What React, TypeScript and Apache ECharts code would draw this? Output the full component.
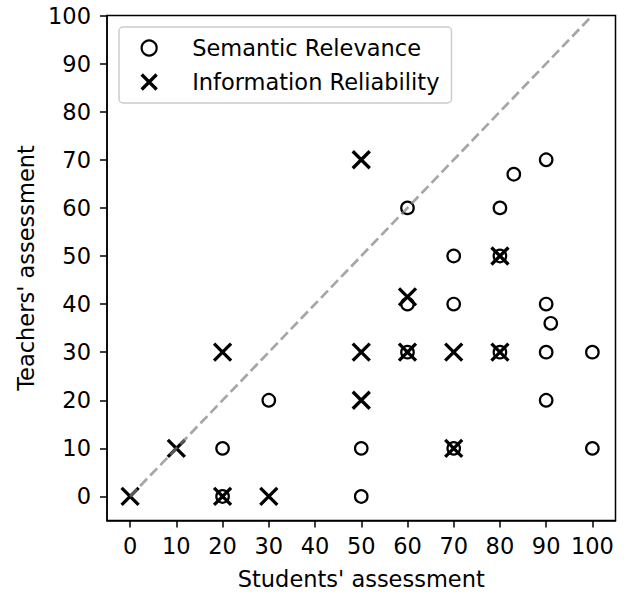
import React, { useEffect, useRef } from "react";
import * as echarts from "echarts";

const semanticRelevance: number[][] = [
  [20, 0], [20, 10], [30, 20], [50, 0], [50, 10], [60, 30], [60, 40], [60, 60],
  [70, 10], [70, 40], [70, 50], [80, 30], [80, 50], [80, 60], [83, 67], [90, 70],
  [90, 40], [91, 36], [90, 30], [90, 20], [100, 30], [100, 10],
];
const informationReliability: number[][] = [
  [0, 0], [10, 10], [20, 0], [20, 30], [30, 0], [50, 70], [50, 30], [50, 20],
  [60, 41.5], [60, 30], [70, 30], [70, 10], [80, 50], [80, 30],
];
const diagonal: number[][] = [[0, 0], [100, 100]];
const xTicks = [0, 10, 20, 30, 40, 50, 60, 70, 80, 90, 100];
const yTicks = [0, 10, 20, 30, 40, 50, 60, 70, 80, 90, 100];

const FONT = "DejaVu Sans";
const FS = 22.5;
const CROSS = "path://M0 0L10 10M10 0L0 10";

export default function App() {
  const ref = useRef<HTMLDivElement>(null);
  useEffect(() => {
    if (!ref.current) return;
    const chart = echarts.init(ref.current, undefined, { renderer: "svg" });
    const axisCommon = {
      type: "value" as const,
      splitLine: { show: false },
      axisLine: { show: true, onZero: false, lineStyle: { color: "#000", width: 1.5 } },
      axisTick: { show: true, length: 7, lineStyle: { color: "#000", width: 1.5 } },
      nameLocation: "middle" as const,
      nameTextStyle: { color: "#000", fontFamily: FONT, fontSize: FS },
    };
    const circleStyle = { color: "rgba(0,0,0,0)", borderColor: "#000", borderWidth: 2.2, opacity: 1 };
    const crossStyle = { color: "rgba(0,0,0,0)", borderColor: "#000", borderWidth: 3.3, opacity: 1 };
    chart.setOption({
      animation: false,
      backgroundColor: "#fff",
      grid: {
        left: 107,
        right: 10.5,
        top: 15.5,
        bottom: 75.5,
        show: true,
        borderColor: "#000",
        borderWidth: 1.5,
        backgroundColor: "transparent",
      },
      xAxis: {
        ...axisCommon,
        min: -5,
        max: 105,
        name: "Students' assessment",
        nameGap: 47,
        axisTick: { ...axisCommon.axisTick, customValues: xTicks },
        axisLabel: {
          customValues: xTicks,
          margin: 14,
          color: "#000",
          fontFamily: FONT,
          fontSize: FS,
        },
      },
      yAxis: {
        ...axisCommon,
        min: -5,
        max: 100,
        name: "Teachers' assessment",
        nameGap: 68,
        axisTick: { ...axisCommon.axisTick, customValues: yTicks },
        axisLabel: {
          customValues: yTicks,
          margin: 16,
          color: "#000",
          fontFamily: FONT,
          fontSize: FS,
        },
      },
      legend: {
        orient: "vertical",
        left: 119,
        top: 27,
        padding: [8, 12, 8, 21],
        itemWidth: 20,
        itemHeight: 15,
        itemGap: 8,
        backgroundColor: "rgba(255,255,255,0.8)",
        borderColor: "#cccccc",
        borderWidth: 1.5,
        borderRadius: 4,
        textStyle: {
          color: "#000",
          fontFamily: FONT,
          fontSize: FS,
          lineHeight: 26,
          padding: [0, 0, 0, 28],
        },
        data: [
          { name: "Semantic Relevance", itemStyle: circleStyle },
          { name: "Information Reliability", itemStyle: crossStyle },
        ],
      },
      series: [
        {
          name: "Semantic Relevance",
          type: "scatter",
          symbol: "circle",
          symbolSize: 12.5,
          data: semanticRelevance,
          itemStyle: circleStyle,
          z: 2,
        },
        {
          name: "Information Reliability",
          type: "scatter",
          symbol: CROSS,
          symbolSize: 17,
          data: informationReliability,
          itemStyle: crossStyle,
          z: 3,
        },
        {
          name: "diagonal",
          type: "line",
          data: diagonal,
          symbol: "none",
          silent: true,
          lineStyle: { color: "rgba(128,128,128,0.7)", width: 2.7, type: [10, 4.5] },
          z: 4,
        },
      ],
    });
    return () => chart.dispose();
  }, []);
  return (
    <div
      ref={ref}
      style={{ position: "fixed", left: 0, top: 0, width: 626, height: 596 }}
    />
  );
}
